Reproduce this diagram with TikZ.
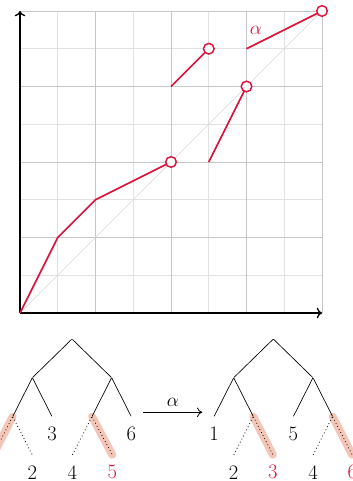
\documentclass[tikz,border=0pt]{standalone}
\usetikzlibrary{arrows.meta}
\definecolor{fred}{RGB}{220,20,60}
\definecolor{hl}{RGB}{244,198,184}
\definecolor{gridlight}{RGB}{226,226,226}
\definecolor{griddark}{RGB}{198,198,198}
\definecolor{diag}{RGB}{215,215,215}
\begin{document}
\begin{tikzpicture}[
  font=\fontsize{15.5}{18}\selectfont,
  fn/.style={fred, line width=1.25pt},
  opencirc/.style={circle, draw=fred, fill=white, line width=1.1pt, minimum size=8pt, inner sep=0pt},
  axis/.style={line width=1pt, -{To[length=4pt,width=8pt]}},
  edge/.style={line width=0.5pt},
  dedge/.style={line width=0.6pt, dotted},
  hlite/.style={hl, line width=6pt, line cap=round},
  pt/.style={inner sep=0pt, minimum size=0pt},
  leaf/.style={inner sep=0pt},
  redleaf/.style={leaf, text=fred},
  mapto/.style={line width=0.6pt, -{To[length=4pt,width=7pt]}}
]
\useasboundingbox (-0.530,-4.450) rectangle (8.795,8.291);
% grid
\draw[gridlight, line width=0.6pt] (0,0) grid[step=1] (8,8);
\draw[griddark, line width=0.6pt] (0,0) grid[step=2] (8,8);
\draw[griddark, line width=0.6pt] (0,8) -- (8,8) -- (8,0);
\draw[diag, line width=0.5pt] (0,0) -- (8,8);
% axes
\coordinate (O) at (0,0);
\coordinate (X) at (8,0);
\coordinate (Y) at (0,8);
\draw[axis] (O) -- (X);
\draw[axis] (O) -- (Y);
% function
\draw[fn] (0,0) -- (1,2) -- (2,3) -- (4,4);
\draw[fn] (5,4) -- (6,6);
\draw[fn] (4,6) -- (5,7);
\draw[fn] (6,7) -- (8,8);
\node[opencirc] (c1) at (4,4) {};
\node[opencirc] (c2) at (6,6) {};
\node[opencirc] (c3) at (5,7) {};
\node[opencirc] (c4) at (8,8) {};
\node[text=fred] (alpha) at (6.25,7.48) {$\alpha$};
% left tree
\node[pt] (a0) at (1.377,-0.689) {};
\node[pt] (a1) at (0.327,-1.714) {};
\node[pt] (a2) at (2.427,-1.714) {};
\node[pt] (a3) at (-0.193,-2.742) {};
\node[pt] (a4) at (0.847,-2.742) {};
\node[pt] (a5) at (1.907,-2.742) {};
\node[pt] (a6) at (2.947,-2.742) {};
\node[pt] (a7) at (-0.713,-3.762) {};
\node[pt] (a8) at (0.327,-3.762) {};
\node[pt] (a9) at (1.387,-3.762) {};
\node[pt] (a10) at (2.447,-3.762) {};
\draw[hlite] (a3) -- (a7);
\draw[hlite] (a5) -- (a10);
\draw[edge] (a1) -- (a0) -- (a2);
\draw[edge] (a3) -- (a1) -- (a4);
\draw[edge] (a5) -- (a2) -- (a6);
\draw[dedge] (a7) -- (a3) -- (a8);
\draw[dedge] (a9) -- (a5) -- (a10);
\node[leaf] (la3) at (0.847,-3.195) {3};
\node[leaf] (la6) at (2.947,-3.195) {6};
\node[leaf] (la2) at (0.327,-4.22) {2};
\node[leaf] (la4) at (1.387,-4.22) {4};
\node[redleaf] (la5) at (2.447,-4.22) {5};
% arrow
\coordinate (m1) at (3.267,-2.630);
\coordinate (m2) at (4.830,-2.630);
\draw[mapto] (m1) -- node[above=1pt] (malpha) {$\alpha$} (m2);
% right tree
\node[pt] (b0) at (6.710,-0.689) {};
\node[pt] (b1) at (5.660,-1.714) {};
\node[pt] (b2) at (7.760,-1.714) {};
\node[pt] (b3) at (5.140,-2.742) {};
\node[pt] (b4) at (6.180,-2.742) {};
\node[pt] (b5) at (7.240,-2.742) {};
\node[pt] (b6) at (8.280,-2.742) {};
\node[pt] (b7) at (5.660,-3.762) {};
\node[pt] (b8) at (6.700,-3.762) {};
\node[pt] (b9) at (7.760,-3.762) {};
\node[pt] (b10) at (8.800,-3.762) {};
\draw[hlite] (b4) -- (b8);
\draw[hlite] (b6) -- (b10);
\draw[edge] (b1) -- (b0) -- (b2);
\draw[edge] (b3) -- (b1) -- (b4);
\draw[edge] (b5) -- (b2) -- (b6);
\draw[dedge] (b7) -- (b4) -- (b8);
\draw[dedge] (b9) -- (b6) -- (b10);
\node[leaf] (lb1) at (5.140,-3.195) {1};
\node[leaf] (lb5) at (7.240,-3.195) {5};
\node[leaf] (lb2) at (5.660,-4.22) {2};
\node[redleaf] (lb3) at (6.700,-4.22) {3};
\node[leaf] (lb4) at (7.760,-4.22) {4};
\node[redleaf] (lb6) at (8.800,-4.22) {6};
\end{tikzpicture}
\end{document}
